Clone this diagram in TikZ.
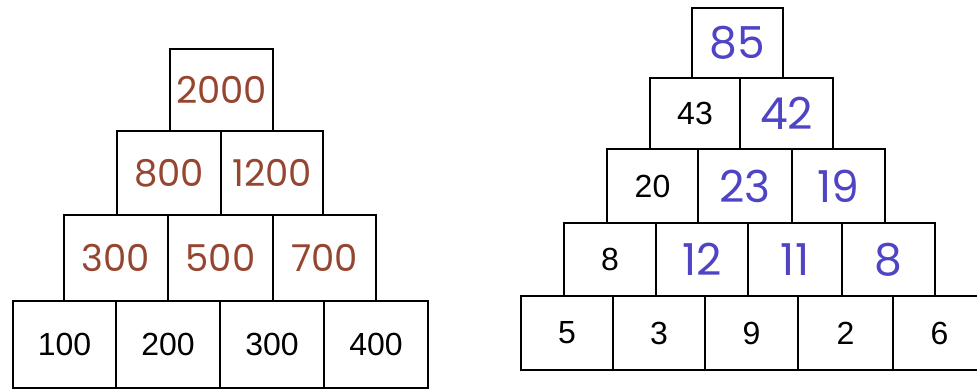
\documentclass[tikz,border=0pt]{standalone}
\usepackage{fontspec}
\setmainfont{Liberation Sans}
\newfontfamily\handfont{Poppins}
\definecolor{penbrown}{RGB}{150,70,48}
\definecolor{penblue}{RGB}{78,68,196}
\tikzset{
  cell/.style={draw=black, line width=1.8pt, fill=white, inner sep=0pt, font=\fontsize{32}{38}\selectfont},
  lhand/.style={text=penbrown, font=\handfont\fontsize{37}{44}\selectfont},
  rhand/.style={text=penblue, font=\handfont\fontsize{44}{50}\selectfont},
}
\begin{document}
\begin{tikzpicture}[x=1pt,y=-1pt]
\useasboundingbox (0,0) rectangle (977,389);
\fill[white] (0,0) rectangle (977,389);
% left pyramid
\node[cell, lhand, minimum width=103pt, minimum height=82pt] (a1) at (221.5,90) {2000};
\node[cell, lhand, minimum width=104pt, minimum height=84pt] (b1) at (169,173) {800};
\node[cell, lhand, minimum width=102pt, minimum height=84pt] (b2) at (272,173) {1200};
\node[cell, lhand, minimum width=104pt, minimum height=86pt] (c1) at (116,258) {300};
\node[cell, lhand, minimum width=105pt, minimum height=86pt] (c2) at (220.5,258) {500};
\node[cell, lhand, minimum width=103pt, minimum height=86pt] (c3) at (324.5,258) {700};
\node[cell, minimum width=103pt, minimum height=87pt] (d1) at (64.5,344.5) {100};
\node[cell, minimum width=104pt, minimum height=87pt] (d2) at (168,344.5) {200};
\node[cell, minimum width=104pt, minimum height=87pt] (d3) at (272,344.5) {300};
\node[cell, minimum width=104pt, minimum height=87pt] (d4) at (376,344.5) {400};
% right pyramid
\node[cell, rhand, minimum width=91pt, minimum height=70pt] (p1) at (737.5,43) {85};
\node[cell, minimum width=90pt, minimum height=71pt] (q1) at (695,113.5) {43};
\node[cell, rhand, minimum width=93pt, minimum height=71pt] (q2) at (786.5,113.5) {42};
\node[cell, minimum width=91pt, minimum height=74pt] (r1) at (652.5,186) {20};
\node[cell, rhand, minimum width=94pt, minimum height=74pt] (r2) at (745,186) {23};
\node[cell, rhand, minimum width=93pt, minimum height=74pt] (r3) at (838.5,186) {19};
\node[cell, minimum width=92pt, minimum height=73pt] (s1) at (610,259.5) {8};
\node[cell, rhand, minimum width=92pt, minimum height=73pt] (s2) at (702,259.5) {12};
\node[cell, rhand, minimum width=94pt, minimum height=73pt] (s3) at (795,259.5) {11};
\node[cell, rhand, minimum width=93pt, minimum height=73pt] (s4) at (888.5,259.5) {8};
\node[cell, minimum width=92pt, minimum height=74pt] (t1) at (567,333) {5};
\node[cell, minimum width=92pt, minimum height=74pt] (t2) at (659,333) {3};
\node[cell, minimum width=93pt, minimum height=74pt] (t3) at (751.5,333) {9};
\node[cell, minimum width=95pt, minimum height=74pt] (t4) at (845.5,333) {2};
\node[cell, minimum width=93pt, minimum height=74pt] (t5) at (939.5,333) {6};
\end{tikzpicture}
\end{document}
